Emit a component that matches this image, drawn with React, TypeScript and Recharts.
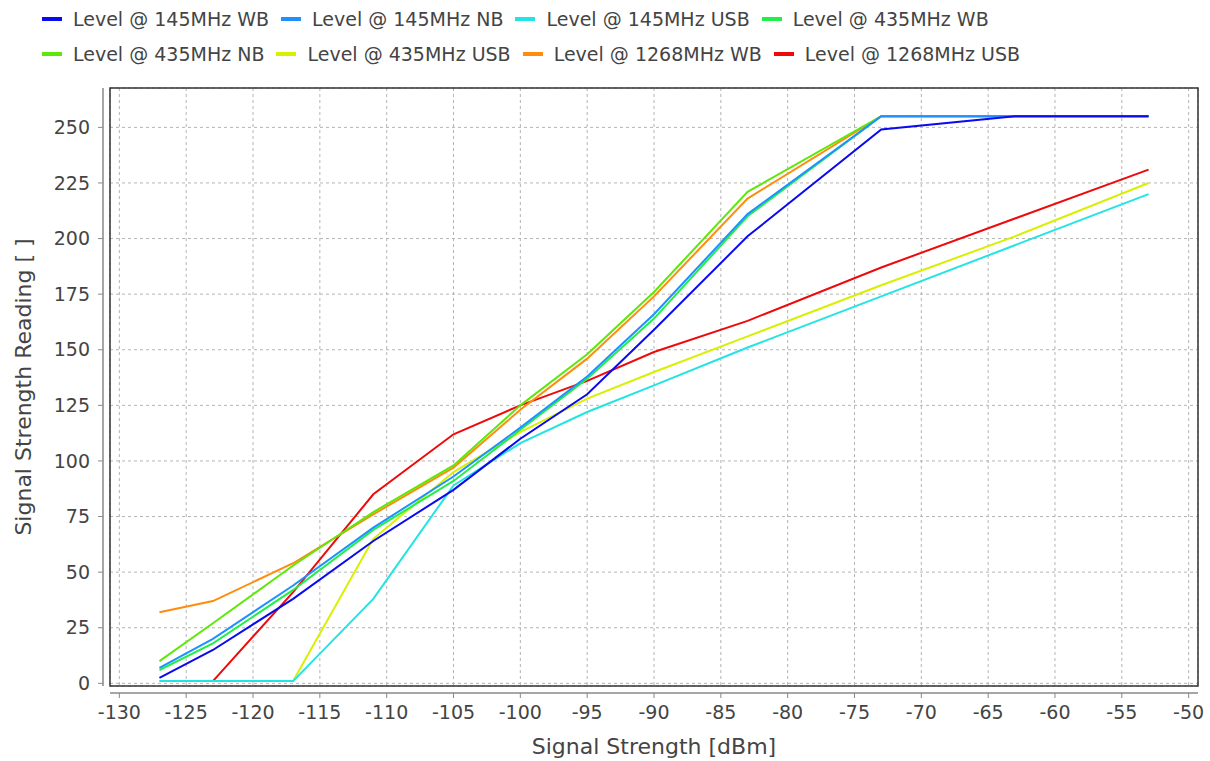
import { LineChart, Line, XAxis, YAxis, CartesianGrid, ReferenceArea } from 'recharts'

const DBM = [-127, -123, -117, -111, -105, -100, -95, -90, -83, -73, -63, -53]

const LEVEL_145_WB = [2.5, 15, 38, 64, 87, 110, 130, 159, 201, 249, 255, 255]
const LEVEL_145_NB = [7, 20, 44, 70, 93, 115, 138, 166, 211, 255, 255, 255]
const LEVEL_145_USB = [1, 1, 1, 38, 89, 108, 122, 134, 151, 174, 197, 220]
const LEVEL_435_WB = [6, 18, 42, 69, 91, 114, 137, 164, 210, 255, 255, 255]
const LEVEL_435_NB = [10, 27, 53, 77, 98, 125, 148, 176, 221, 255, 255, 255]
const LEVEL_435_USB = [1, 1, 1, 65, 95, 113, 128, 140, 156, 179, 201, 225]
const LEVEL_1268_WB = [32, 37, 54, 76, 97, 123, 146, 174, 218, 255, 255, 255]
const LEVEL_1268_USB = [null, 1, 41, 85, 112, 125, 136, 149, 163, 187, 209, 231]

const X_TICKS = [-130, -125, -120, -115, -110, -105, -100, -95, -90, -85, -80, -75, -70, -65, -60, -55, -50]
const Y_TICKS = [0, 25, 50, 75, 100, 125, 150, 175, 200, 225, 250]

const X_DOMAIN: [number, number] = [-130.7, -49.3]
const Y_DOMAIN: [number, number] = [-1.2, 267.7]

const SERIES = [
  { key: 's145wb', name: 'Level @ 145MHz WB', color: '#0a0aee', values: LEVEL_145_WB },
  { key: 's145nb', name: 'Level @ 145MHz NB', color: '#1e90ff', values: LEVEL_145_NB },
  { key: 's145usb', name: 'Level @ 145MHz USB', color: '#22e4e4', values: LEVEL_145_USB },
  { key: 's435wb', name: 'Level @ 435MHz WB', color: '#1ef048', values: LEVEL_435_WB },
  { key: 's435nb', name: 'Level @ 435MHz NB', color: '#5ee80a', values: LEVEL_435_NB },
  { key: 's435usb', name: 'Level @ 435MHz USB', color: '#d8f000', values: LEVEL_435_USB },
  { key: 's1268wb', name: 'Level @ 1268MHz WB', color: '#ff8c0a', values: LEVEL_1268_WB },
  { key: 's1268usb', name: 'Level @ 1268MHz USB', color: '#ee0a0a', values: LEVEL_1268_USB },
]

const data = DBM.map((x, i) => {
  const row: Record<string, number | null> = { x }
  for (const s of SERIES) row[s.key] = s.values[i]
  return row
})

const TEXT = '#444'

function LegendRow({ items, top }: { items: typeof SERIES; top: number }) {
  return (
    <div style={{ position: 'absolute', left: 42, top, height: 20, display: 'flex', alignItems: 'center', whiteSpace: 'nowrap' }}>
      {items.map((s) => (
        <div key={s.key} style={{ display: 'flex', alignItems: 'center', marginRight: 12 }}>
          <span style={{ display: 'inline-block', width: 20, height: 4, background: s.color, marginRight: 11 }} />
          <span style={{ fontSize: 19, lineHeight: '20px', color: TEXT }}>{s.name}</span>
        </div>
      ))}
    </div>
  )
}

export default function App() {
  return (
    <div
      style={{
        position: 'absolute',
        left: 0,
        top: 0,
        width: 1210,
        height: 761,
        background: '#fff',
        fontFamily: '"DejaVu Sans", sans-serif',
      }}
    >
      <LegendRow items={SERIES.slice(0, 4)} top={9} />
      <LegendRow items={SERIES.slice(4)} top={44} />
      <LineChart width={1210} height={761} data={data} margin={{ top: 88, right: 12, bottom: 0, left: 0 }}>
        {/* inner axes carry the series; outer ones draw the offset axis lines */}
        <XAxis xAxisId="plot" type="number" dataKey="x" domain={X_DOMAIN} height={7} tick={false} axisLine={false} tickLine={false} allowDataOverflow />
        <YAxis yAxisId="plot" type="number" domain={Y_DOMAIN} width={7} tick={false} axisLine={false} tickLine={false} allowDataOverflow />
        <XAxis
          xAxisId="ticks"
          type="number"
          dataKey="x"
          domain={X_DOMAIN}
          ticks={X_TICKS}
          height={68}
          allowDataOverflow
          interval={0}
          axisLine={{ stroke: '#888', strokeWidth: 1.5 }}
          tickLine={{ stroke: '#888' }}
          tickSize={5}
          tickMargin={8}
          tick={{ fontSize: 19, fill: TEXT }}
          label={{ value: 'Signal Strength [dBm]', position: 'insideBottom', offset: 7, style: { fontSize: 22, fill: TEXT } }}
        />
        <YAxis
          yAxisId="ticks"
          type="number"
          domain={Y_DOMAIN}
          ticks={Y_TICKS}
          width={103}
          allowDataOverflow
          interval={0}
          axisLine={{ stroke: '#888', strokeWidth: 1.5 }}
          tickLine={{ stroke: '#888' }}
          tickSize={5}
          tickMargin={8}
          tick={{ fontSize: 19, fill: TEXT }}
          label={{
            value: 'Signal Strength Reading [ ]',
            angle: -90,
            position: 'insideLeft',
            offset: 23,
            style: { fontSize: 22, fill: TEXT, textAnchor: 'middle' },
          }}
        />
        <CartesianGrid xAxisId="ticks" yAxisId="ticks" stroke="#b4b4b4" strokeDasharray="3 3" />
        <ReferenceArea
          xAxisId="plot"
          yAxisId="plot"
          x1={X_DOMAIN[0]}
          x2={X_DOMAIN[1]}
          y1={Y_DOMAIN[0]}
          y2={Y_DOMAIN[1]}
          fill="none"
          stroke="#333"
          strokeWidth={1.5}
          ifOverflow="visible"
        />
        {[...SERIES].reverse().map((s) => (
          <Line
            key={s.key}
            xAxisId="plot"
            yAxisId="plot"
            type="linear"
            dataKey={s.key}
            name={s.name}
            stroke={s.color}
            strokeWidth={2}
            dot={false}
            activeDot={false}
            isAnimationActive={false}
          />
        ))}
      </LineChart>
    </div>
  )
}
